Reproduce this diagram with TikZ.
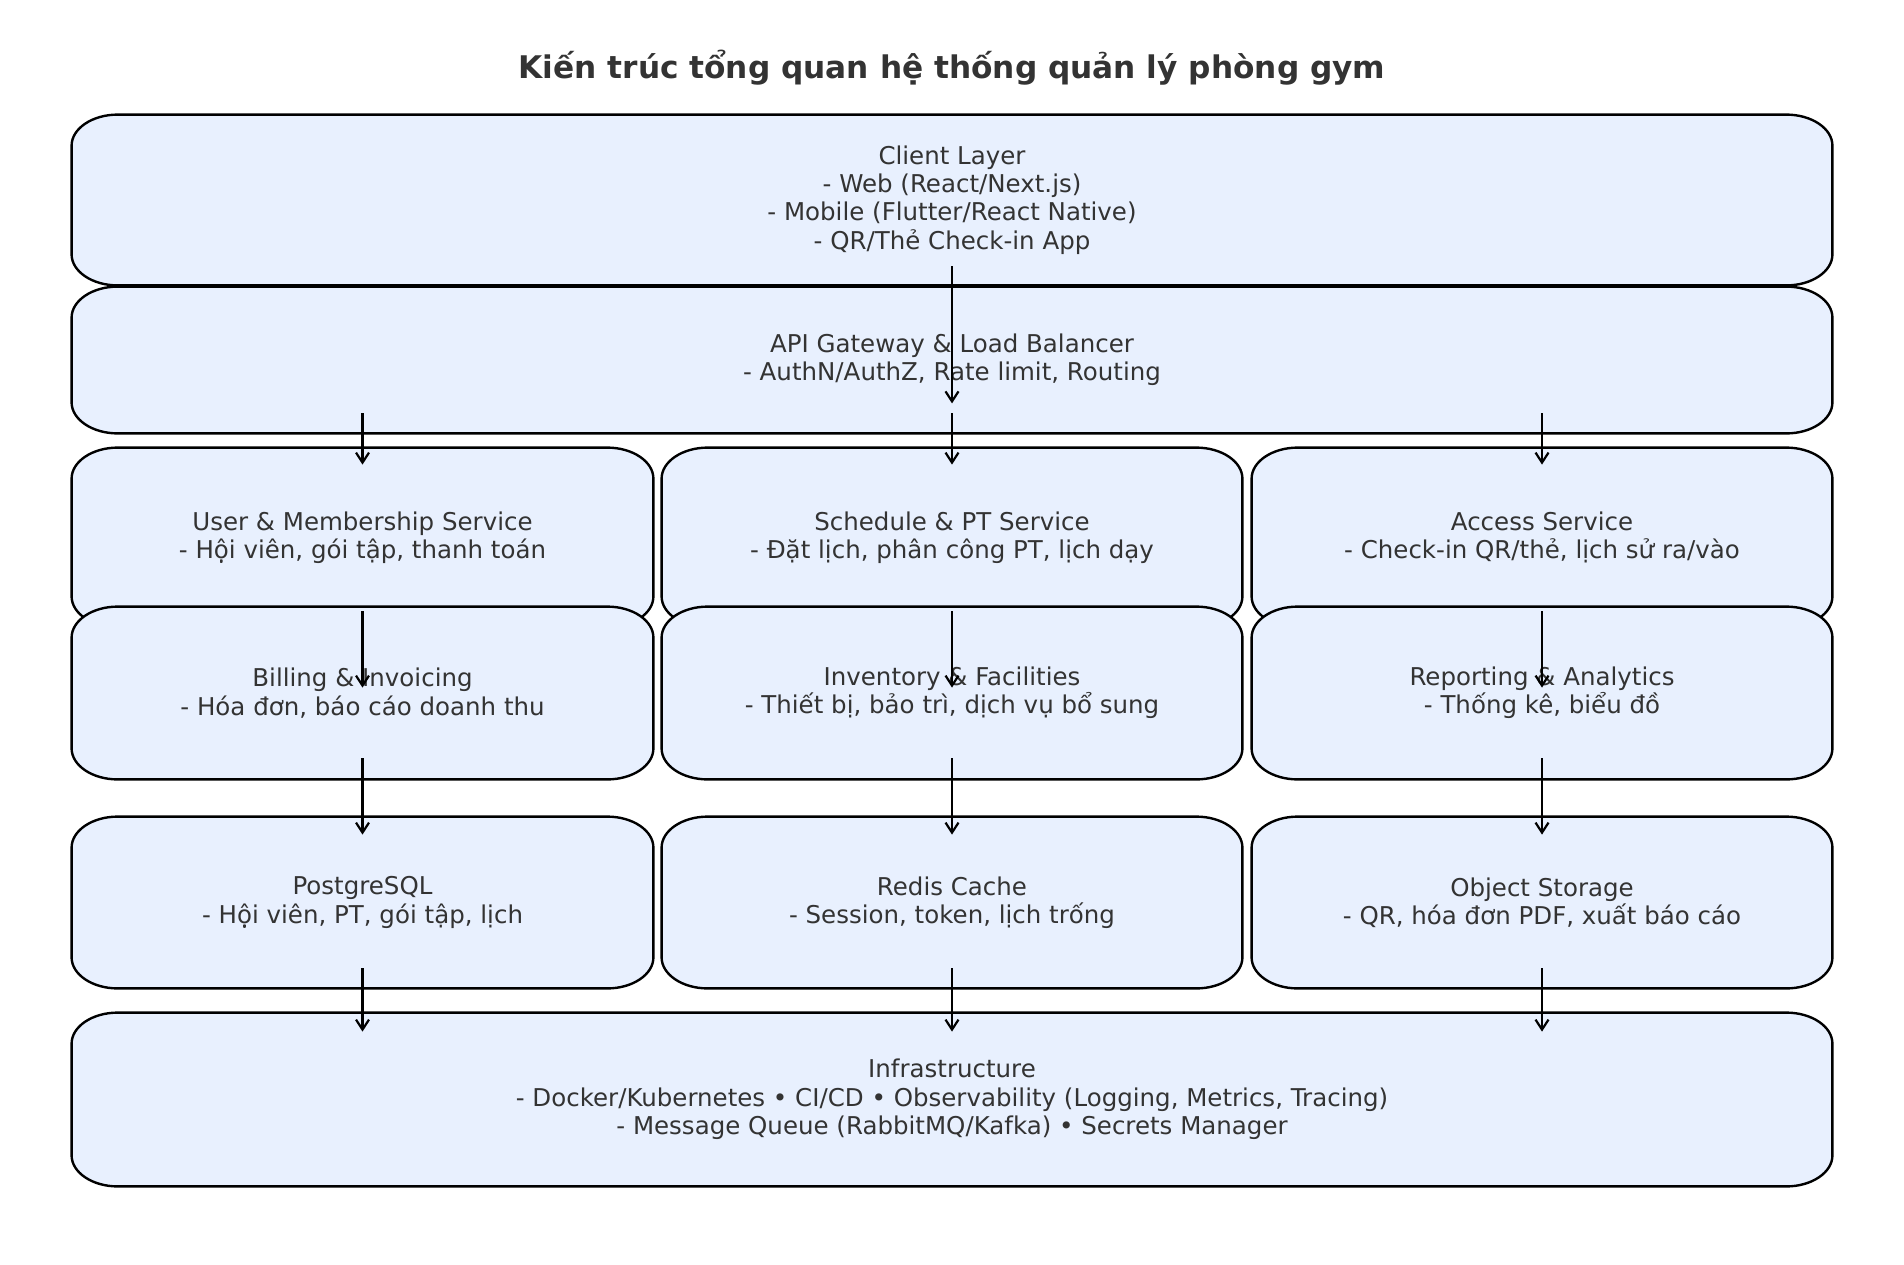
\documentclass[tikz,border=0pt]{standalone}
\usepackage{fontspec}
\setmainfont{DejaVu Sans}
\usetikzlibrary{calc,arrows.meta}
\pgfdeclarelayer{bg}
\pgfsetlayers{bg,main}
\definecolor{boxfill}{HTML}{E8F0FE}
\definecolor{txt}{HTML}{333333}
\def\rx{46}
\def\ry{31}
\newcommand\ebox[1]{%
\begin{pgfonlayer}{bg}
\path[boxline]
  ($(#1.north west)+(\rx,0)$) -- ($(#1.north east)+(-\rx,0)$)
  .. controls ($(#1.north east)+(-0.45*\rx,0)$) and ($(#1.north east)+(0,0.45*\ry)$) .. ($(#1.north east)+(0,\ry)$)
  -- ($(#1.south east)+(0,-\ry)$)
  .. controls ($(#1.south east)+(0,-0.45*\ry)$) and ($(#1.south east)+(-0.45*\rx,0)$) .. ($(#1.south east)+(-\rx,0)$)
  -- ($(#1.south west)+(\rx,0)$)
  .. controls ($(#1.south west)+(0.45*\rx,0)$) and ($(#1.south west)+(0,-0.45*\ry)$) .. ($(#1.south west)+(0,-\ry)$)
  -- ($(#1.north west)+(0,\ry)$)
  .. controls ($(#1.north west)+(0,0.45*\ry)$) and ($(#1.north west)+(0.45*\rx,0)$) .. cycle;
\end{pgfonlayer}}
\tikzset{
  boxline/.style={draw=black, fill=boxfill, line width=1.2pt},
  layerbox/.style 2 args={inner sep=0pt, minimum width=#1*0.5pt, minimum height=#2*0.5pt,
     align=center, text=txt, font=\fontsize{12.25pt}{14.2pt}\selectfont},
  arr/.style={draw=black, line width=1.1pt, -{Straight Barb[length=5pt,width=6.5pt]}},
  titletext/.style={text=txt, font=\fontsize{15.6pt}{18pt}\selectfont\bfseries}
}
\begin{document}
\begin{tikzpicture}[x=0.5pt,y=-0.5pt]
\useasboundingbox (0,0) rectangle (1904,1264);
\node[titletext] (title) at (952,68) {Kiến trúc tổng quan hệ thống quản lý phòng gym};

\node[layerbox={1760}{170}] (client) at (952,200) {Client Layer\\- Web (React/Next.js)\\- Mobile (Flutter/React Native)\\- QR/Thẻ Check-in App};
\ebox{client}
\node[layerbox={1760}{146}] (api) at (952,360) {API Gateway \& Load Balancer\\- AuthN/AuthZ, Rate limit, Routing};
\ebox{api}

\node[layerbox={581}{179}] (u1) at (362.5,537.5) {User \& Membership Service\\- Hội viên, gói tập, thanh toán};
\ebox{u1}
\node[layerbox={580}{179}] (u2) at (952,537.5) {Schedule \& PT Service\\- Đặt lịch, phân công PT, lịch dạy};
\ebox{u2}
\node[layerbox={580}{179}] (u3) at (1542,537.5) {Access Service\\- Check-in QR/thẻ, lịch sử ra/vào};
\ebox{u3}

\node[layerbox={581}{172}] (m1) at (362.5,693) {Billing \& Invoicing\\- Hóa đơn, báo cáo doanh thu};
\ebox{m1}
\node[layerbox={580}{172}] (m2) at (952,693) {Inventory \& Facilities\\- Thiết bị, bảo trì, dịch vụ bổ sung};
\ebox{m2}
\node[layerbox={580}{172}] (m3) at (1542,693) {Reporting \& Analytics\\- Thống kê, biểu đồ};
\ebox{m3}

\node[layerbox={581}{171}] (d1) at (362.5,902.5) {PostgreSQL\\- Hội viên, PT, gói tập, lịch};
\ebox{d1}
\node[layerbox={580}{171}] (d2) at (952,902.5) {Redis Cache\\- Session, token, lịch trống};
\ebox{d2}
\node[layerbox={580}{171}] (d3) at (1542,902.5) {Object Storage\\- QR, hóa đơn PDF, xuất báo cáo};
\ebox{d3}

\node[layerbox={1760}{173}] (infra) at (952,1099.5) {Infrastructure\\- Docker/Kubernetes • CI/CD • Observability (Logging, Metrics, Tracing)\\- Message Queue (RabbitMQ/Kafka) • Secrets Manager};
\ebox{infra}

% connectors
\draw[arr] ($(client.south)+(0,-19)$) -- ($(api.south)+(0,-30)$);
\foreach \c in {u1,u2,u3}{
  \draw[arr] ($(api.south -| \c.north)+(0,-20)$) -- ($(\c.north)+(0,17)$);
}
\foreach \a/\b in {u1/m1,u2/m2,u3/m3}{
  \draw[arr] ($(\a.south)+(0,-16)$) -- ($(\b.north)+(0,81)$);
}
\foreach \a/\b in {m1/d1,m2/d2,m3/d3}{
  \draw[arr] ($(\a.south)+(0,-21)$) -- ($(\b.north)+(0,18)$);
}
\foreach \a in {d1,d2,d3}{
  \draw[arr] ($(\a.south)+(0,-20)$) -- ($(infra.north -| \a.south)+(0,19)$);
}
\end{tikzpicture}
\end{document}
